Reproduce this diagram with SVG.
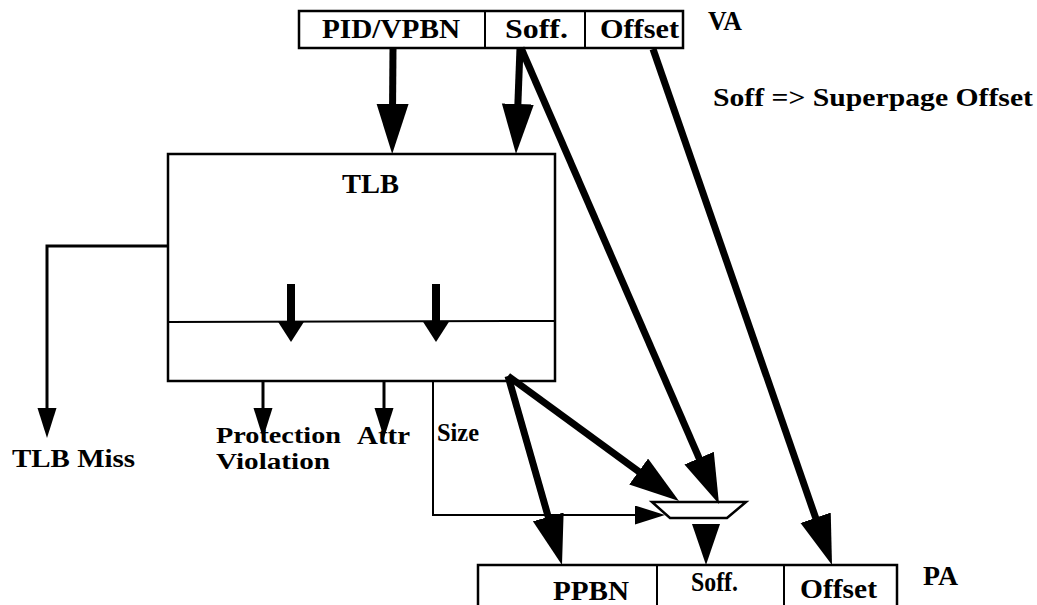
<svg xmlns="http://www.w3.org/2000/svg" width="1037" height="605" viewBox="0 0 1037 605">
<style>
.box{fill:#fff;stroke:#000;stroke-width:2.5}
.ln{fill:none;stroke:#000;stroke-width:2}
.t{font-family:"Liberation Serif","Times New Roman",serif;font-weight:bold;font-size:27px;fill:#000}
.l{font-size:26px}
.s{font-size:24px}
.big{fill:none;stroke:#000;stroke-width:7}
.mid{fill:none;stroke:#000;stroke-width:8}
.sm{fill:none;stroke:#000;stroke-width:3}
</style>
<defs>
<marker id="ahBig" markerUnits="userSpaceOnUse" markerWidth="52" markerHeight="34" refX="10" refY="16" orient="auto"><path d="M0,0 L50,16 L0,32 z" fill="#000"/></marker>
<marker id="ahMid" markerUnits="userSpaceOnUse" markerWidth="24" markerHeight="28" refX="2" refY="13.5" orient="auto"><path d="M0,0 L21,13.5 L0,27 z" fill="#000"/></marker>
<marker id="ahSm" markerUnits="userSpaceOnUse" markerWidth="32" markerHeight="20" refX="2" refY="9.5" orient="auto"><path d="M0,0 L30,9.5 L0,19 z" fill="#000"/></marker>
</defs>
<rect width="1037" height="605" fill="#fff"/>

<g id="va">
<rect class="box" x="299" y="11" width="384" height="37"/>
<line class="ln" x1="485" y1="11" x2="485" y2="48"/>
<line class="ln" x1="585" y1="11" x2="585" y2="48"/>
<text class="t" x="322" y="38" textLength="138" lengthAdjust="spacingAndGlyphs">PID/VPBN</text>
<text class="t" x="505" y="38" textLength="63" lengthAdjust="spacingAndGlyphs">Soff.</text>
<text class="t" x="600" y="38" textLength="79" lengthAdjust="spacingAndGlyphs">Offset</text>
</g>
<g id="va-label"><text class="t" x="708" y="30" textLength="34" lengthAdjust="spacingAndGlyphs">VA</text></g>
<g id="legend"><text class="t l" x="713" y="106" textLength="320" lengthAdjust="spacingAndGlyphs">Soff =&gt; Superpage Offset</text></g>

<g id="tlb">
<rect class="box" x="168" y="154" width="387" height="227"/>
<line class="ln" x1="168" y1="322" x2="555" y2="321"/>
<text class="t" x="342" y="193" font-size="29" textLength="57" lengthAdjust="spacingAndGlyphs">TLB</text>
</g>

<g id="mux">
<polygon points="652,502 746,502 727,518 670,518" fill="#fff" stroke="#000" stroke-width="2.5"/>
</g>

<g id="pa">
<rect class="box" x="478" y="565" width="419" height="45"/>
<line class="ln" x1="657" y1="565" x2="657" y2="605"/>
<line class="ln" x1="784" y1="565" x2="784" y2="605"/>
<text class="t" x="553" y="600" textLength="76" lengthAdjust="spacingAndGlyphs">PPBN</text>
<text class="t" x="691" y="591" textLength="47" lengthAdjust="spacingAndGlyphs">Soff.</text>
<text class="t" x="800" y="598" textLength="77" lengthAdjust="spacingAndGlyphs">Offset</text>
</g>
<g id="pa-label"><text class="t" x="923" y="585" textLength="35" lengthAdjust="spacingAndGlyphs">PA</text></g>

<g id="outputs">
<text class="t l" x="12" y="467" textLength="123" lengthAdjust="spacingAndGlyphs">TLB Miss</text>
<text class="t s" x="216" y="443" textLength="125" lengthAdjust="spacingAndGlyphs">Protection</text>
<text class="t s" x="216" y="469" textLength="114" lengthAdjust="spacingAndGlyphs">Violation</text>
<text class="t l" x="357" y="444" textLength="53" lengthAdjust="spacingAndGlyphs">Attr</text>
<text class="t l" x="437" y="441" textLength="42" lengthAdjust="spacingAndGlyphs">Size</text>
</g>

<g id="connectors">
<line class="big" x1="393" y1="48" x2="392.5" y2="114" marker-end="url(#ahBig)"/>
<line class="big" x1="520" y1="48" x2="517.5" y2="114" marker-end="url(#ahBig)"/>
<line class="big" x1="521" y1="48" x2="703.1" y2="467.3" marker-end="url(#ahBig)"/>
<line class="big" x1="653" y1="49" x2="818.9" y2="527.2" marker-end="url(#ahBig)"/>
<line class="big" x1="508" y1="376" x2="551" y2="526.5" marker-end="url(#ahBig)"/>
<line class="big" x1="508" y1="376" x2="646.7" y2="477.4" stroke="#333" marker-end="url(#ahBig)"/>
<polygon points="692,524 720,524 706,565" fill="#000"/>
<line class="mid" x1="291" y1="284" x2="291" y2="323" marker-end="url(#ahMid)"/>
<line class="mid" x1="436" y1="284" x2="436" y2="323" marker-end="url(#ahMid)"/>
<path class="sm" d="M168,246 H47 V410" marker-end="url(#ahSm)"/>
<line class="sm" x1="263" y1="381" x2="263" y2="410" marker-end="url(#ahSm)"/>
<line class="sm" x1="384" y1="381" x2="384" y2="410" marker-end="url(#ahSm)"/>
<path class="ln" d="M433,381 V515 H637" marker-end="url(#ahSm)"/>
</g>
</svg>
